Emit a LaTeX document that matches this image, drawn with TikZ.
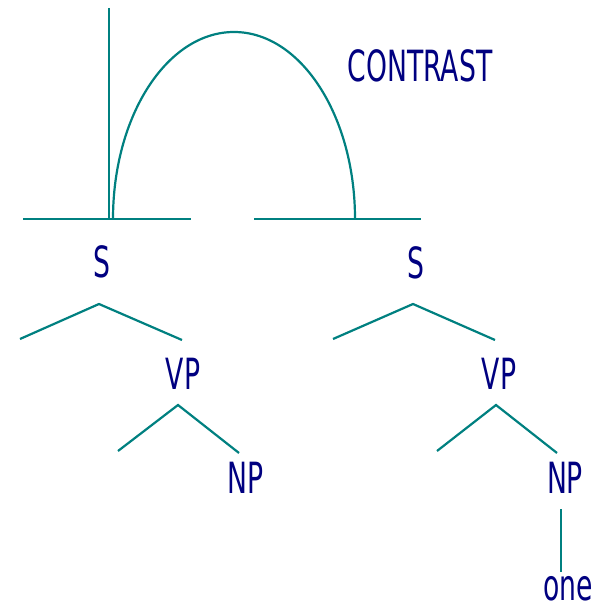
\documentclass[tikz,border=0pt]{standalone}
\usepackage{fontspec}
\setmainfont{DejaVu Sans}[FakeStretch=0.62]
\definecolor{lbl}{HTML}{000080}
\definecolor{ln}{HTML}{008080}
\begin{document}
\begin{tikzpicture}[x=1pt,y=-1pt,
  lab/.style={text=lbl,font=\fontsize{43}{43}\selectfont,inner sep=0pt},
  br/.style={draw=ln,line width=2.2pt}]
\useasboundingbox (0,0) rectangle (608,612);
% labels
\node[lab] (contrast) at (420,66) {CONTRAST};
\node[lab] (s1) at (102,262) {S};
\node[lab] (s2) at (416,263) {S};
\node[lab] (vp1) at (183,374) {VP};
\node[lab] (vp2) at (499,374) {VP};
\node[lab] (np1) at (246,478) {NP};
\node[lab] (np2) at (565,478) {NP};
\node[lab] (one) at (568,589) {one};
% top structure
\coordinate (vtop) at (109,8);
\coordinate (vbot) at (109,219);
\coordinate (h1l) at (23,219);
\coordinate (h1r) at (191,219);
\coordinate (h2l) at (254,219);
\coordinate (h2r) at (421,219);
\coordinate (arcR) at (355,219);
\draw[br] (vtop) -- (vbot);
\draw[br] (h1l) -- (h1r);
\draw[br] (h2l) -- (h2r);
\draw[br] (arcR) arc[start angle=0,end angle=-180,x radius=121,y radius=187];
% left tree
\coordinate (a1) at (99,304);
\coordinate (a1l) at (20,339);
\coordinate (a1r) at (182,340);
\draw[br] (a1l) -- (a1) -- (a1r);
\coordinate (b1) at (178,405);
\coordinate (b1l) at (118,451);
\coordinate (b1r) at (239,453);
\draw[br] (b1l) -- (b1) -- (b1r);
% right tree
\coordinate (a2) at (413,304);
\coordinate (a2l) at (333,339);
\coordinate (a2r) at (495,340);
\draw[br] (a2l) -- (a2) -- (a2r);
\coordinate (b2) at (496,405);
\coordinate (b2l) at (437,451);
\coordinate (b2r) at (557,453);
\draw[br] (b2l) -- (b2) -- (b2r);
\coordinate (c2t) at (561,509);
\coordinate (c2b) at (561,572);
\draw[br] (c2t) -- (c2b);
\end{tikzpicture}
\end{document}
